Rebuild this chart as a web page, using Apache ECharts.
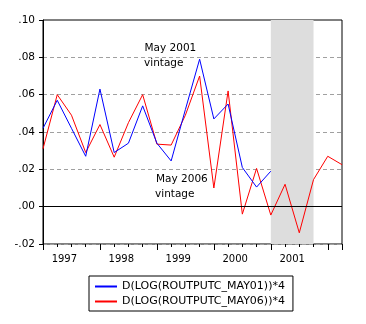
<!DOCTYPE html>
<html><head><meta charset="utf-8">
<script src="https://cdn.jsdelivr.net/npm/echarts@6/dist/echarts.min.js"></script>
<style>html,body{margin:0;padding:0;background:#fff}#c{width:366px;height:324px}</style>
</head><body><div id="c"></div>
<script>
// ---- data ----
const quarters = ['1997Q1','1997Q2','1997Q3','1997Q4','1998Q1','1998Q2','1998Q3','1998Q4',
  '1999Q1','1999Q2','1999Q3','1999Q4','2000Q1','2000Q2','2000Q3','2000Q4',
  '2001Q1','2001Q2','2001Q3','2001Q4','2002Q1','2002Q2'];
const may01 = [0.042,0.057,0.042,0.027,0.063,0.029,0.034,0.054,0.034,0.0245,0.052,0.079,
  0.047,0.055,0.021,0.0105,0.019,null,null,null,null,null];
const may06 = [0.031,0.060,0.049,0.029,0.044,0.0265,0.045,0.060,0.0335,0.033,0.049,0.070,
  0.010,0.062,-0.004,0.0205,-0.0045,0.012,-0.014,0.0145,0.027,0.0225];
const seriesNames = ['D(LOG(ROUTPUTC_MAY01))*4','D(LOG(ROUTPUTC_MAY06))*4'];
const recession = ['2001Q1','2001Q4'];
const yMin = -0.02, yMax = 0.10, yStep = 0.02;
const notes = [['May 2001','vintage'],['May 2006','vintage']];

// ---- chart ----
const FONT = '"DejaVu Sans", "Liberation Sans", Arial, sans-serif';
const idx = q => quarters.indexOf(q);
const toPts = arr => arr.map((v,i) => [i, v == null ? '-' : v]);
const lastIdx = quarters.length - 1;
const yFmt = v => { const s = Math.abs(v).toFixed(2).replace(/^0/, ''); return (v < -1e-9 ? '-' : '') + s; };
const xLabelFmt = v => {
  const i = Math.round(v - 1.5);
  if (Math.abs(v - 1.5 - i) > 1e-6 || i < 0) return '';
  const q = quarters[i];
  if (q && q.endsWith('Q1') && i + 3 <= lastIdx) return q.slice(0,4);
  return '';
};
const black = '#000';
const chart = echarts.init(document.getElementById('c'), null, {renderer:'canvas'});
const baseX = {type:'value', min:0, max:lastIdx, gridIndex:0, position:'bottom',
  axisLine:{show:false, onZero:false}, splitLine:{show:false}, axisLabel:{show:false}, axisTick:{show:false}};
chart.setOption({
  animation:false,
  backgroundColor:'#fff',
  grid:{left:43, top:20, width:299, height:224, containLabel:false,
        show:true, borderColor:black, borderWidth:1, backgroundColor:'transparent'},
  xAxis:[
    Object.assign({}, baseX, {interval:1, axisTick:{show:true, length:3, lineStyle:{color:black}}}),
    Object.assign({}, baseX, {interval:4, axisTick:{show:true, length:6, lineStyle:{color:black}}}),
    Object.assign({}, baseX, {interval:0.5, axisLabel:{show:true, formatter:xLabelFmt, margin:10,
      color:black, fontSize:10, fontFamily:FONT, showMinLabel:true, showMaxLabel:true}})
  ],
  yAxis:[
    {type:'value', min:yMin, max:yMax, interval:yStep, position:'left',
     axisLine:{show:true, onZero:false, lineStyle:{color:black, width:1}},
     axisTick:{show:true, length:4, lineStyle:{color:black}},
     axisLabel:{formatter:yFmt, margin:8, color:black, fontSize:10.5, fontFamily:FONT},
     splitLine:{show:true, showMaxLine:false, lineStyle:{color:'#a0a0a0', type:[4,3], width:1}}}
  ],
  legend:{
    data:seriesNames, orient:'vertical', left:89, top:276,
    padding:[5,8,4,6], itemGap:4, itemWidth:22, itemHeight:2, icon:'rect',
    borderColor:black, borderWidth:1, borderRadius:0,
    textStyle:{color:black, fontSize:11, fontFamily:FONT}
  },
  graphic:[
    {type:'text', x:144.5, y:48, style:{text:notes[0][0], fill:black, font:'10.5px '+FONT, verticalAlign:'middle'}},
    {type:'text', x:144, y:63.2, style:{text:notes[0][1], fill:black, font:'10.5px '+FONT, verticalAlign:'middle'}},
    {type:'text', x:156, y:179.3, style:{text:notes[1][0], fill:black, font:'10.5px '+FONT, verticalAlign:'middle'}},
    {type:'text', x:155, y:194.4, style:{text:notes[1][1], fill:black, font:'10.5px '+FONT, verticalAlign:'middle'}}
  ],
  series:[
    {type:'line', name:'shade', data:[], z:1, silent:true,
     markArea:{silent:true, itemStyle:{color:'#dddddd'},
       data:[[{xAxis:idx(recession[0])},{xAxis:idx(recession[1])}]]}},
    {type:'line', name:'zero', data:[], z:6, silent:true,
     markLine:{silent:true, symbol:['none','none'], label:{show:false},
       lineStyle:{color:black, type:'solid', width:1}, data:[{yAxis:0}]}},
    {type:'line', name:seriesNames[0], data:toPts(may01), xAxisIndex:0, yAxisIndex:0, z:4,
     showSymbol:false, symbol:'none', connectNulls:false,
     lineStyle:{color:'#0000ff', width:1}, itemStyle:{color:'#0000ff'}},
    {type:'line', name:seriesNames[1], data:toPts(may06), xAxisIndex:0, yAxisIndex:0, z:3,
     showSymbol:false, symbol:'none',
     lineStyle:{color:'#ff0000', width:1}, itemStyle:{color:'#ff0000'}}
  ]
});
</script></body></html>
